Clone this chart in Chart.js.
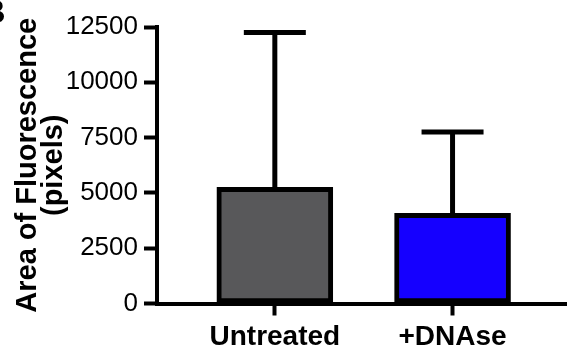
<!DOCTYPE html>
<html>
<head>
<meta charset="utf-8">
<script src="https://cdn.jsdelivr.net/npm/chart.js@4"></script>
<style>
  html, body { margin: 0; padding: 0; background: #fff; }
  canvas { display: block; }
</style>
</head>
<body>
<canvas id="chartFluor" width="567" height="350"></canvas>
<script>
// values
var categories = ["Untreated", "+DNAse"];
var means = [5250, 4080];
var sd = [7000, 3670];
var yTicks = [0, 2500, 5000, 7500, 10000, 12500];

Chart.defaults.font.family = "'Liberation Sans', Arial, Helvetica, sans-serif";
Chart.defaults.color = "#000";

// error bars (upper only, like the original)
var errorBars = {
  id: "errorBars",
  afterDatasetsDraw: function (chart) {
    var ctx = chart.ctx;
    var yScale = chart.scales.y;
    var meta = chart.getDatasetMeta(0);
    ctx.save();
    ctx.strokeStyle = "#000";
    ctx.lineWidth = 5;
    meta.data.forEach(function (bar, i) {
      var yTop = yScale.getPixelForValue(means[i] + sd[i]);
      ctx.beginPath();
      ctx.moveTo(bar.x, bar.y);
      ctx.lineTo(bar.x, yTop);
      ctx.stroke();
      ctx.beginPath();
      ctx.moveTo(bar.x - 31, yTop);
      ctx.lineTo(bar.x + 31, yTop);
      ctx.stroke();
    });
    ctx.restore();
  },
};

// panel letter, cut off at the left edge in the original
var panelLetter = {
  id: "panelLetter",
  afterDraw: function (chart) {
    var ctx = chart.ctx;
    ctx.save();
    ctx.font = "bold 34px 'Liberation Sans', Arial, sans-serif";
    ctx.fillStyle = "#000";
    ctx.textBaseline = "alphabetic";
    ctx.fillText("B", -19, 23);
    ctx.restore();
  },
};

var ctx = document.getElementById("chartFluor").getContext("2d");

new Chart(ctx, {
  type: "bar",
  data: {
    datasets: [
      {
        data: means.map(function (m, i) {
          return { x: i + 1, y: m };
        }),
        backgroundColor: ["#58585a", "#1500ff"],
        borderColor: "#000",
        borderWidth: 5,
        borderSkipped: false,
        barThickness: 116,
      },
    ],
  },
  options: {
    responsive: false,
    animation: false,
    layout: { padding: { top: 27, left: 0, right: 0, bottom: 0 } },
    plugins: {
      legend: { display: false },
      tooltip: { enabled: false },
    },
    scales: {
      x: {
        type: "linear",
        offset: false,
        min: 0.337,
        max: 2.644,
        afterBuildTicks: function (scale) {
          scale.ticks = categories.map(function (c, i) {
            return { value: i + 1 };
          });
        },
        afterFit: function (scale) {
          scale.height = 46.5;
        },
        ticks: {
          callback: function (value) {
            return categories[value - 1];
          },
          font: { size: 28, weight: "bold" },
          color: "#000",
          padding: 5,
          maxRotation: 0,
          autoSkip: false,
        },
        grid: {
          offset: false,
          drawOnChartArea: false,
          drawTicks: true,
          tickLength: 12,
          tickWidth: 4,
          tickColor: "#000",
        },
        border: { display: true, color: "#000", width: 4 },
      },
      y: {
        min: 0,
        max: 12500,
        afterBuildTicks: function (scale) {
          scale.ticks = yTicks.map(function (v) {
            return { value: v };
          });
        },
        afterFit: function (scale) {
          scale.width = 157;
        },
        ticks: {
          callback: function (value) {
            return String(value);
          },
          font: { size: 26 },
          color: "#000",
          padding: 6,
        },
        grid: {
          drawOnChartArea: false,
          drawTicks: true,
          tickLength: 13,
          tickWidth: 4,
          tickColor: "#000",
        },
        border: { display: true, color: "#000", width: 4 },
        title: {
          display: true,
          text: ["Area of Fluorescence", "(pixels)"],
          font: { size: 29, weight: "bold", lineHeight: 0.9 },
          color: "#000",
          padding: { top: 15, bottom: 0 },
        },
      },
    },
  },
  plugins: [errorBars, panelLetter],
});
</script>
</body>
</html>
